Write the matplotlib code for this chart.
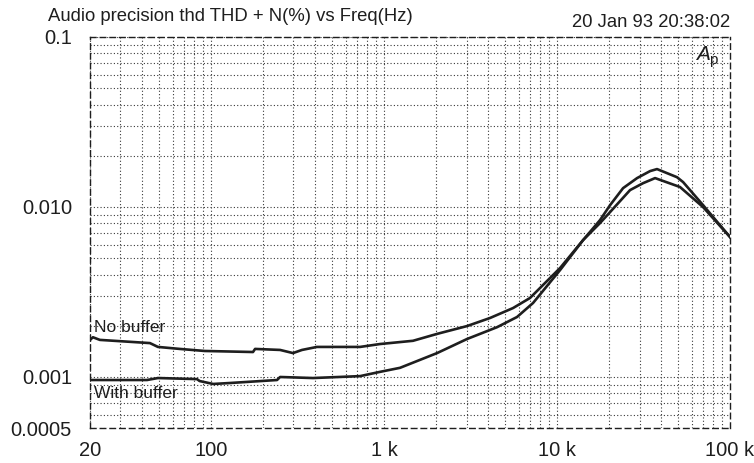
import numpy as np
import matplotlib.pyplot as plt
from matplotlib.ticker import FixedLocator, LogLocator, NullFormatter

plt.rcParams['font.family'] = ['Liberation Sans', 'DejaVu Sans']

# THD+N (%) vs frequency (Hz)
freq_nobuf = [20, 20.8, 22.8, 44.4, 49.4, 66, 92, 175, 180, 251, 298, 336, 410,
              728, 949, 1472, 2028, 3021, 4102, 5572, 6980, 10420, 14157,
              17740, 20280, 26440, 31470, 36900, 51400, 69860, 100000]
thd_nobuf = [0.00165, 0.00171, 0.00165, 0.00158, 0.00150, 0.00146, 0.00142,
             0.00140, 0.00146, 0.00144, 0.00138, 0.00144, 0.00150, 0.00150,
             0.00156, 0.00163, 0.00179, 0.00199, 0.00222, 0.00254, 0.00291,
             0.00437, 0.00638, 0.00804, 0.00933, 0.01256, 0.0138, 0.01478,
             0.0131, 0.00998, 0.00665]

freq_buf = [20, 42.7, 49.4, 83, 86, 103, 129, 241, 251, 389, 728, 949, 1238,
            2028, 3021, 4504, 5876, 7272, 10420, 14157, 17740, 20280, 24100,
            29040, 34520, 37860, 49400, 53580, 69860, 100000]
thd_buf = [0.000958, 0.000958, 0.000984, 0.00097, 0.000945, 0.000908, 0.00092,
           0.000958, 0.000998, 0.000984, 0.00101, 0.00107, 0.00113, 0.00138,
           0.00167, 0.00196, 0.00225, 0.00272, 0.00425, 0.00638, 0.00837,
           0.01025, 0.0129, 0.01478, 0.01625, 0.0167, 0.01496, 0.0140,
           0.01025, 0.00665]

x_ticks = [20, 100, 1000, 10000, 100000]
x_labels = ['20', '100', '1 k', '10 k', '100 k']
y_ticks = [0.0005, 0.001, 0.01, 0.1]
y_labels = ['0.0005', '0.001', '0.010', '0.1']

fig = plt.figure(figsize=(7.54, 4.63), dpi=100)
ax = fig.add_axes([90 / 754, 1 - 428 / 463, 640 / 754, 391 / 463])

ink = '#1e1e1e'
ax.plot(freq_nobuf, thd_nobuf, color=ink, lw=1.9)
ax.plot(freq_buf, thd_buf, color=ink, lw=1.9)

ax.set_xscale('log')
ax.set_yscale('log')
ax.set_xlim(20, 100000)
ax.set_ylim(0.0005, 0.1)

ax.xaxis.set_major_locator(FixedLocator(x_ticks))
ax.set_xticklabels(x_labels)
ax.yaxis.set_major_locator(FixedLocator(y_ticks))
ax.set_yticklabels(y_labels)
for axis in (ax.xaxis, ax.yaxis):
    axis.set_minor_locator(LogLocator(base=10, subs=range(2, 10), numticks=20))
    axis.set_minor_formatter(NullFormatter())

ax.tick_params(which='both', length=0, labelsize=14.5, colors=ink)
ax.tick_params(axis='x', pad=9)
ax.tick_params(axis='y', pad=13)

ax.grid(which='both', ls=(0, (1, 2)), color='#3a3a3a', lw=0.8)
for sp in ax.spines.values():
    sp.set_linestyle((0, (4, 3)))
    sp.set_linewidth(1.0)
    sp.set_color(ink)

# labels for the two traces
ax.text(21.2, 0.00196, 'No buffer', fontsize=12.5, color=ink, va='center', ha='left')
ax.text(21.2, 0.00080, 'With buffer', fontsize=12.5, color=ink, va='center', ha='left')

# AP logo
ax.text(0.947, 0.955, 'A', transform=ax.transAxes, fontsize=15, style='italic',
        color=ink, ha='left', va='center')
ax.text(0.967, 0.94, 'p', transform=ax.transAxes, fontsize=11,
        color=ink, ha='left', va='center')

fig.text(48 / 754, 1 - 21 / 463, 'Audio precision thd THD + N(%) vs Freq(Hz)',
         fontsize=13.3, color=ink, ha='left', va='baseline')
fig.text(730 / 754, 1 - 27 / 463, '20 Jan 93 20:38:02',
         fontsize=13.3, color=ink, ha='right', va='baseline')

fig.savefig('out.png', dpi=100)
